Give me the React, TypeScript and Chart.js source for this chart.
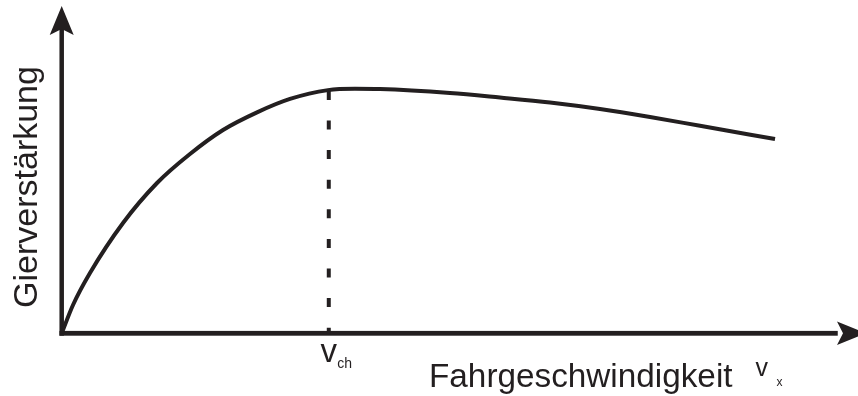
import React, { useEffect, useRef } from "react";
import { Chart, registerables } from "chart.js";

Chart.register(...registerables);

// (arbitrary units: speed 0..100, yaw gain 0..100)
const speed = [0, 1.42, 3.55, 7.7, 11.97, 16.11, 20.26, 24.53, 28.67, 33.44, 36.83, 39.97, 48.76, 55.04, 61.32, 67.6, 73.88, 80.16, 89.58];
const gain = [0, 8.65, 18.42, 33.7, 45.92, 54.78, 62.11, 67.5, 71.6, 74.3, 74.7, 74.62, 73.42, 72.04, 70.52, 68.53, 66.09, 63.4, 59.36];
const vchSpeed = 33.54;
const vchGain = 74.3;
const yTitle = "Gierverstärkung";
const xTitle = "Fahrgeschwindigkeit";
const xSymbol = "v";
const xSub = "x";
const chSymbol = "v";
const chSub = "ch";

const INK = "#231f20";
const FONT = "'Liberation Sans', Arial, Helvetica, sans-serif";

function arrowUp(ctx: CanvasRenderingContext2D, x: number, tipY: number) {
  ctx.beginPath();
  ctx.moveTo(x, tipY);
  ctx.lineTo(x + 12, tipY + 29);
  ctx.lineTo(x, tipY + 23);
  ctx.lineTo(x - 12, tipY + 29);
  ctx.closePath();
  ctx.fill();
}
function arrowRight(ctx: CanvasRenderingContext2D, tipX: number, y: number) {
  ctx.beginPath();
  ctx.moveTo(tipX, y);
  ctx.lineTo(tipX - 29, y - 11.7);
  ctx.lineTo(tipX - 23, y);
  ctx.lineTo(tipX - 29, y + 11.7);
  ctx.closePath();
  ctx.fill();
}

const decor = {
  id: "decor",
  beforeDatasetsDraw(chart: any) {
    const ctx: CanvasRenderingContext2D = chart.ctx;
    const xs = chart.scales.x;
    const ys = chart.scales.y;
    const ox = xs.getPixelForValue(0);
    const oy = ys.getPixelForValue(0);
    ctx.save();
    ctx.fillStyle = INK;
    // axes
    ctx.fillRect(ox - 2.25, 25, 4.5, oy - 25 + 2.4);
    ctx.fillRect(ox - 2.25, oy - 2.4, 840 - ox, 4.8);
    arrowUp(ctx, ox, ys.getPixelForValue(100));
    arrowRight(ctx, 866, oy);
    ctx.restore();
  },
  afterDraw(chart: any) {
    const ctx: CanvasRenderingContext2D = chart.ctx;
    const xs = chart.scales.x;
    ctx.save();
    ctx.fillStyle = INK;
    ctx.textBaseline = "alphabetic";
    // y title
    ctx.save();
    ctx.translate(36.5, 187);
    ctx.rotate(-Math.PI / 2);
    ctx.textAlign = "center";
    ctx.font = `34px ${FONT}`;
    ctx.fillText(yTitle, 0, 0);
    ctx.restore();
    // v_ch
    const vx = xs.getPixelForValue(vchSpeed);
    ctx.textAlign = "center";
    ctx.font = `33px ${FONT}`;
    ctx.fillText(chSymbol, vx, 361.5);
    ctx.textAlign = "left";
    ctx.font = `14px ${FONT}`;
    ctx.fillText(chSub, vx + 8.5, 368);
    // x title
    ctx.font = `33.3px ${FONT}`;
    ctx.fillText(xTitle, 429, 386.5);
    ctx.font = `25px ${FONT}`;
    ctx.fillText(xSymbol, 755.5, 376);
    ctx.font = `12px ${FONT}`;
    ctx.fillText(xSub, 776.5, 386);
    ctx.restore();
  },
};

export default function App() {
  const ref = useRef<HTMLCanvasElement>(null);
  useEffect(() => {
    const canvas = ref.current;
    if (!canvas) return;
    const chart = new Chart(canvas, {
      type: "line",
      data: {
        datasets: [
          {
            data: speed.map((s, i) => ({ x: s, y: gain[i] })),
            borderColor: INK,
            borderWidth: 4,
            pointRadius: 0,
            cubicInterpolationMode: "monotone",
            fill: false,
            clip: false as any,
          },
          {
            data: [
              { x: vchSpeed, y: vchGain },
              { x: vchSpeed, y: 0 },
            ],
            borderColor: INK,
            borderWidth: 4,
            borderDash: [9, 20.6],
            borderDashOffset: -0.8,
            borderCapStyle: "butt",
            pointRadius: 0,
            fill: false,
          },
        ],
      },
      options: {
        animation: false,
        responsive: false,
        layout: { padding: { left: 61.7, right: 0, top: 6, bottom: 62.7 } },
        scales: {
          x: { type: "linear", min: 0, max: 100, display: false },
          y: { type: "linear", min: 0, max: 100, display: false },
        },
        plugins: { legend: { display: false }, tooltip: { enabled: false }, title: { display: false } },
        events: [],
      },
      plugins: [decor],
    });
    return () => chart.destroy();
  }, []);
  return (
    <div style={{ position: "fixed", left: 0, top: 0, width: 858, height: 396, background: "#fff" }}>
      <canvas ref={ref} width={858} height={396} style={{ display: "block" }} />
    </div>
  );
}
